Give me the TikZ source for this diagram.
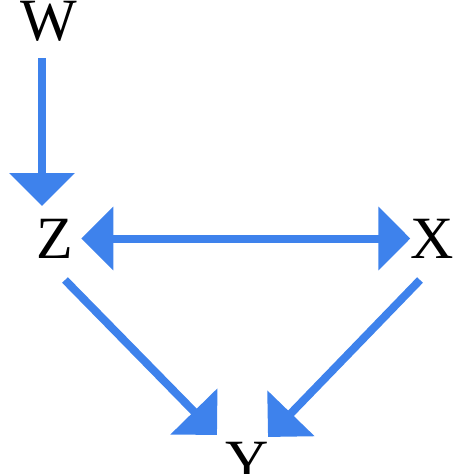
\documentclass[tikz,border=0pt]{standalone}
\usepackage{fontspec}
\setmainfont{Liberation Serif}
\usetikzlibrary{arrows.meta}
\definecolor{arrblue}{RGB}{62,130,236}
\begin{document}
\begin{tikzpicture}[x=1pt,y=1pt,
  lbl/.style={inner sep=0pt,outer sep=0pt,anchor=base,font=\fontsize{60}{60}\selectfont,text height=39pt,text depth=0pt},
  arr/.style={draw=arrblue,line width=8pt,-{Triangle[length=33pt,width=64pt]},arrblue}]
\useasboundingbox (0,0) rectangle (474,-474);
\node[lbl] (W) at (49,-40) {W};
\node[lbl] (Z) at (55,-258) {Z};
\node[lbl] (X) at (432,-258) {X};
\node[lbl] (Y) at (247,-481) {Y};
\draw[arr] ([xshift=-7pt,yshift=-18pt]W.south) -- ([xshift=-13pt,yshift=13pt]Z.north);
\draw[arr,{Triangle[length=32pt,width=62pt]}-{Triangle[length=32pt,width=62pt]}] ([xshift=8pt]Z.east) -- (X.west);
\draw[arr] ([xshift=10pt,yshift=-22pt]Z.south) -- ([xshift=-30pt,yshift=7pt]Y.north);
\draw[arr] ([xshift=-12pt,yshift=-22pt]X.south) -- ([xshift=21pt,yshift=5pt]Y.north);
\end{tikzpicture}
\end{document}
